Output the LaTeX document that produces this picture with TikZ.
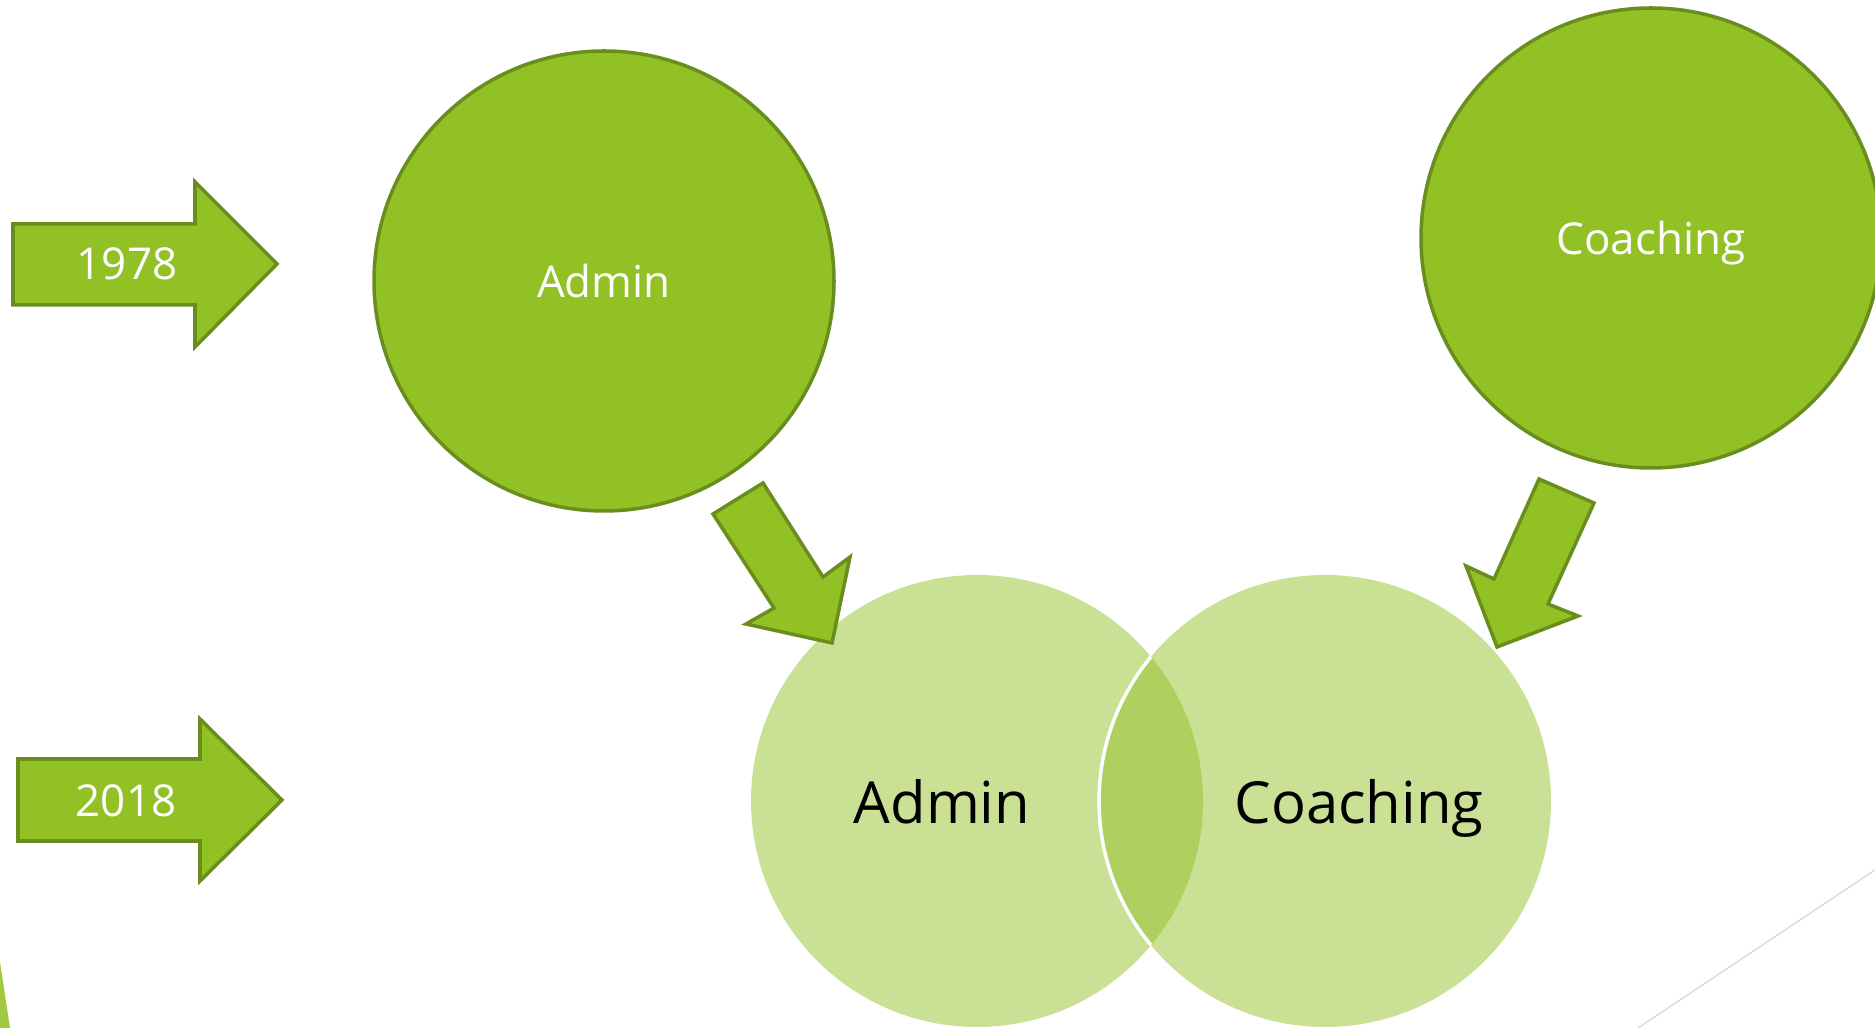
\documentclass[tikz,border=0pt]{standalone}
\usepackage{fontspec}
\setmainfont{Open Sans}
\usetikzlibrary{positioning}
\definecolor{leafgreen}{RGB}{146,193,38}
\definecolor{leafdark}{RGB}{106,142,30}
\definecolor{venngreen}{RGB}{201,224,149}
\definecolor{lensgreen}{RGB}{173,208,94}
\definecolor{edgegreen}{RGB}{160,200,65}
\definecolor{rulegray}{RGB}{217,217,217}

\tikzset{
  bigcircle/.style={circle, draw=leafdark, fill=leafgreen, line width=1pt,
    minimum size=4.6cm, inner sep=0pt, text depth=0pt, text=white,
    font=\fontsize{12.5}{15}\selectfont},
  venncircle/.style={circle, fill=venngreen, minimum size=4.52cm, inner sep=0pt},
  venntext/.style={text=black, inner sep=0pt, text depth=0pt, font=\fontsize{16.5}{20}\selectfont},
  blockarrow/.style={draw=leafdark, fill=leafgreen, line width=1pt, line join=miter},
  yeartext/.style={text=white, inner sep=0pt, font=\fontsize{12.5}{15}\selectfont}
}

\begin{document}
\begin{tikzpicture}[x=0.1mm, y=-0.1mm]
\useasboundingbox (0,0) rectangle (1875,1028);

% Slide decorations
\fill[edgegreen] (0,962) -- (10,1028) -- (0,1028) -- cycle;
\draw[rulegray, line width=0.4pt] (1875,870) -- (1638,1028);

% Year arrows
\draw[blockarrow] (13,224) -- (195,224) -- (195,182) -- (277,264) -- (195,347) -- (195,305) -- (13,305) -- cycle;
\node[yeartext] (y1978) at (127,264) {1978};
\draw[blockarrow] (18,759) -- (200,759) -- (200,719) -- (282,800) -- (200,881) -- (200,841) -- (18,841) -- cycle;
\node[yeartext] (y2018) at (126,801) {2018};

% 1978: separate roles
\node[bigcircle] (admin) at (604,281) {Admin};
\node[bigcircle] (coach) at (1651,238) {Coaching};

% 2018: overlapping roles
\node[venncircle] (vadmin) at (977,801) {};
\node[venncircle] (vcoach) at (1325,801) {};
\begin{scope}
  \clip (vadmin.center) circle[radius=2.26cm];
  \fill[lensgreen] (vcoach.center) circle[radius=2.26cm];
  \draw[white, line width=1pt] (vcoach.center) circle[radius=2.26cm];
\end{scope}
\node[venntext] (tadmin) at ([xshift=-3.5mm]vadmin.center) {Admin};
\node[venntext] (tcoach) at ([xshift=3.4mm]vcoach.center) {Coaching};

% Arrows down into the overlap
\draw[blockarrow] (713,514) -- (763,483) -- (823,577) -- (850,557) -- (832,643) -- (746,624) -- (774,608) -- cycle;
\draw[blockarrow] (1539,479) -- (1594,503) -- (1548,604) -- (1578,616) -- (1497,647) -- (1466,566) -- (1494,579) -- cycle;
\end{tikzpicture}
\end{document}
